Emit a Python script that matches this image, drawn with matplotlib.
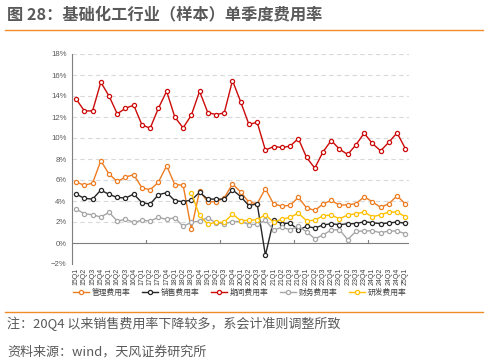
import matplotlib
matplotlib.use("Agg")
import matplotlib.pyplot as plt
from matplotlib.lines import Line2D

plt.rcParams['font.family'] = ['Noto Sans CJK SC', 'DejaVu Sans']
plt.rcParams['axes.unicode_minus'] = True

quarters = [f"{y}Q{q}" for y in range(15, 25) for q in range(1, 5)] + ["25Q1"]

mgmt = [5.8, 5.5, 5.7, 7.83, 6.56, 5.86, 6.28, 6.5, 5.26, 5.07, 5.8, 7.35, 5.55, 5.52, 1.33,
        4.95, 3.93, 3.93, 4.28, 5.64, 4.85, 3.88, 3.75, 5.17, 3.71, 3.52, 3.58, 4.34, 3.36, 3.1,
        3.71, 4.06, 3.61, 3.64, 3.74, 4.4, 3.93, 3.39, 3.74, 4.5, 3.71]
sales = [4.66, 4.25, 4.18, 5.04, 4.63, 4.34, 4.28, 4.66, 3.84, 3.71, 4.6, 4.79, 4.03, 3.93, 4.09,
         4.82, 4.18, 4.18, 4.18, 5.07, 4.42, 3.55, 3.74, -1.17, 2.19, 1.84, 1.9, 1.24, 1.58, 1.43,
         1.71, 1.84, 1.74, 1.84, 1.84, 2.03, 1.93, 1.84, 1.9, 2.0, 1.87]
period = [13.72, 12.58, 12.58, 15.31, 14.0, 12.3, 12.84, 13.12, 11.25, 10.93, 12.84, 14.45, 11.98,
          10.97, 12.17, 14.45, 12.42, 12.23, 12.39, 15.47, 13.44, 11.29, 11.5, 8.84, 9.19, 9.1,
          9.22, 9.95, 8.15, 7.13, 8.68, 9.76, 8.94, 8.43, 9.35, 10.46, 9.48, 8.78, 9.6, 10.49, 9.0]
finance = [3.23, 2.79, 2.69, 2.47, 2.92, 2.09, 2.25, 1.97, 2.16, 2.09, 2.44, 2.25, 2.41, 1.58, 1.97,
           2.09, 2.41, 1.9, 1.84, 2.03, 2.06, 1.76, 1.77, 2.16, 1.24, 1.49, 1.27, 1.58, 1.08, 0.41,
           0.76, 1.24, 1.27, 0.32, 1.11, 1.14, 1.17, 0.98, 1.14, 1.14, 0.89]
rnd = [None] * 14 + [4.75, 2.63, 1.8, 1.97, 1.97, 2.76, 2.13, 2.16, 2.22, 2.69, 1.97, 2.28, 2.44,
                     2.85, 2.12, 2.16, 2.6, 2.66, 2.31, 2.66, 2.79, 2.95, 2.5, 2.69, 2.95, 2.95, 2.5]

series_names = ["管理费用率", "销售费用率", "期间费用率", "财务费用率", "研发费用率"]
series_vals = [mgmt, sales, period, finance, rnd]
colors = ["#EE7D22", "#262626", "#CC0A0A", "#A6A6A6", "#FFC000"]

yticks = list(range(-2, 19, 2))

fig = plt.figure(figsize=(4.88, 3.63), dpi=100)
ax = fig.add_axes([72 / 488, 1 - 264 / 363, (409 - 72) / 488, (264 - 54) / 363])

x_all = list(range(len(quarters)))
for name, vals, c in zip(series_names, series_vals, colors):
    xs = [i for i, v in zip(x_all, vals) if v is not None]
    ys = [v for v in vals if v is not None]
    ax.plot(xs, ys, color=c, lw=1.0, marker='o', ms=3.0, mfc='white', mec=c, mew=0.9,
            label=name, zorder=3)

ax.set_xlim(-0.5, 40.45)
ax.set_ylim(-2, 18)
ax.set_yticks(yticks)
ax.set_yticklabels([f"{t}%".replace('-', '\u2212') for t in yticks],
                   fontfamily='Liberation Sans', fontsize=5.6, color='#595959')
for t in yticks:
    if t != 0:
        ax.axhline(t, color='#D9D9D9', lw=0.8, ls=(0, (4, 3)), zorder=1)
ax.axhline(0, color='#7F7F7F', lw=0.8, zorder=2)
for tx in [8.5, 17.5, 26.5, 35.5]:
    ax.plot([tx, tx], [0, 0.25], color='#7F7F7F', lw=0.8, zorder=2)

ax.set_xticks(x_all)
ax.set_xticklabels(quarters, rotation=90, fontfamily='Liberation Sans', fontsize=5.0,
                   color='#404040')
ax.tick_params(axis='x', length=0, pad=2.5)
ax.tick_params(axis='y', length=0, pad=4)
for s in ['top', 'right', 'bottom']:
    ax.spines[s].set_visible(False)
ax.spines['left'].set_color('#7F7F7F')
ax.spines['left'].set_linewidth(0.8)

handles = [Line2D([0], [0], color=c, lw=1.0, marker='o', ms=3.0, mfc='white', mec=c, mew=0.9)
           for c in colors]
fig.legend(handles, series_names, loc='center', bbox_to_anchor=(240 / 488, 1 - 293 / 363),
           ncol=5, frameon=False, fontsize=5.6, handlelength=2.0, columnspacing=1.5,
           handletextpad=0.4, labelcolor='#404040')

fig.text(7 / 488, 1 - 14 / 363, "图 28：基础化工行业（样本）单季度费用率", fontsize=11.7,
         fontweight='bold', color='#595959', va='center', ha='left')
fig.add_artist(Line2D([5 / 488, 483 / 488], [1 - 29.5 / 363, 1 - 29.5 / 363],
                      color='#F28C28', lw=1.0))
fig.add_artist(Line2D([5 / 488, 483 / 488], [1 - 312 / 363, 1 - 312 / 363],
                      color='#F28C28', lw=1.0))
fig.text(7 / 488, 1 - 324 / 363, "注：20Q4 以来销售费用率下降较多，系会计准则调整所致",
         fontsize=9.4, color='#595959', va='center', ha='left')
fig.text(7 / 488, 1 - 352 / 363, "资料来源：wind，天风证券研究所", fontsize=9.4,
         color='#595959', va='center', ha='left')

fig.savefig("out.png", dpi=100)
